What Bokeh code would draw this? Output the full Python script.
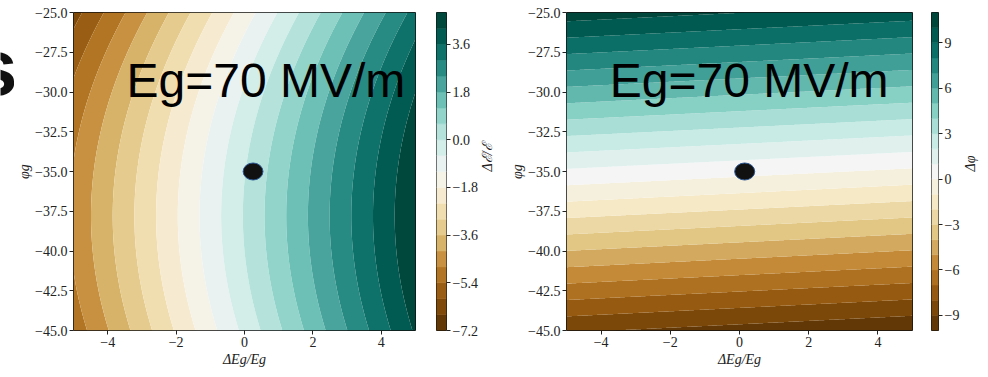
import math
import numpy as np
from bokeh.plotting import figure
from bokeh.layouts import row
from bokeh.models import FixedTicker, CustomJSTickFormatter, Range1d, Label
from bokeh.core.properties import value
from bokeh.embed import file_html
from bokeh.resources import INLINE

# ---------------- data ----------------
X_TICKS = [-4, -2, 0, 2, 4]
Y_TICKS = [-45.0, -42.5, -40.0, -37.5, -35.0, -32.5, -30.0, -27.5, -25.0]
X_RANGE = [-5.0, 5.0]
Y_RANGE = [-45.0, -25.0]

DE_LEVELS = [-7.2, -6.6, -6.0, -5.4, -4.8, -4.2, -3.6, -3.0, -2.4, -1.8, -1.2,
             -0.6, 0.0, 0.6, 1.2, 1.8, 2.4, 3.0, 3.6, 4.2, 4.8]
DE_CBAR_TICKS = [-7.2, -5.4, -3.6, -1.8, 0.0, 1.8, 3.6]
DPHI_LEVELS = [-10, -9, -8, -7, -6, -5, -4, -3, -2, -1, 0, 1, 2, 3, 4, 5, 6,
               7, 8, 9, 10, 11]
DPHI_CBAR_TICKS = [-9, -6, -3, 0, 3, 6, 9]

# shape of the Delta E / E surface (estimated from band positions)
DE_GRAD_X = 0.946      # change per unit of dEg/Eg
DE_ZERO_X = 0.03       # where the 0-contour crosses phi=-35
DE_CURV = 0.0095       # bending of the bands
DE_CENTER_Y = -37.8    # phi where the bands reach furthest left
# shape of the Delta phi surface
DPHI_GRAD_Y = 0.97     # change per unit of phi
DPHI_TILT = 0.107      # rise of the bands per unit of dEg/Eg
DPHI_ONE_Y = -34.3     # phi of the +1 contour at dEg/Eg = 0

DOT_DE_X, DOT_DE_Y = [0.25], [-35.0]
DOT_DPHI_X, DOT_DPHI_Y = [0.15], [-35.0]
ANNOT = "Eg=70 MV/m"
CUT_TEXT = "s"

# ---------------- colour map (matplotlib BrBG anchors) ----------------
BRBG = ["#543005", "#8c510a", "#bf812d", "#dfc27d", "#f6e8c3", "#f5f5f5",
        "#c7eae5", "#80cdc1", "#35978f", "#01665e", "#003c30"]


def brbg(t):
    rgb = np.array([[int(c[i:i + 2], 16) for i in (1, 3, 5)] for c in BRBG], float)
    pos = np.linspace(0, 1, len(BRBG))
    r = [int(round(np.interp(t, pos, rgb[:, k]))) for k in range(3)]
    return "#%02x%02x%02x" % tuple(r)


def band_colors(levels):
    n = len(levels) - 1
    return [brbg((i + 0.5) / n) for i in range(n)]


xs = np.linspace(X_RANGE[0], X_RANGE[1], 301)
ys = np.linspace(Y_RANGE[0], Y_RANGE[1], 301)
XX, YY = np.meshgrid(xs, ys)
Z_DE = DE_GRAD_X * (XX - DE_ZERO_X) - DE_CURV * ((YY - DE_CENTER_Y) ** 2 - (-35.0 - DE_CENTER_Y) ** 2)
Z_DPHI = DPHI_GRAD_Y * (YY - DPHI_ONE_Y - DPHI_TILT * XX) + 1.0

SERIF = "Liberation Serif"
FMT1 = CustomJSTickFormatter(code="return (tick < -1e-9 ? '\u2212' : '') + Math.abs(tick).toFixed(1);")
FMT0 = CustomJSTickFormatter(code="return (tick < -1e-9 ? '\u2212' : '') + Math.abs(tick).toFixed(0);")


def style_axis(ax, label_standoff=0):
    ax.axis_line_color = None
    ax.major_tick_out = 4
    ax.major_tick_in = 0
    ax.minor_tick_out = 0
    ax.minor_tick_in = 0
    ax.major_tick_line_color = "#222222"
    ax.major_label_standoff = 2
    ax.major_label_text_font = SERIF
    ax.major_label_text_font_size = "14px"
    ax.major_label_text_color = "#222222"
    ax.axis_label_text_font = SERIF
    ax.axis_label_text_font_size = "14px"
    ax.axis_label_text_font_style = "italic"
    ax.axis_label_text_color = "#222222"
    ax.axis_label_standoff = label_standoff


def make_main(width, bl, br, Z, levels, dotx, doty, text_x):
    p = figure(width=width, height=377, x_range=Range1d(*X_RANGE), y_range=Range1d(*Y_RANGE),
               output_backend="svg", toolbar_location=None,
               min_border_left=bl, min_border_right=br, min_border_top=12, min_border_bottom=47)
    p.contour(x=xs, y=ys, z=Z, levels=levels, fill_color=band_colors(levels), line_color=None)
    p.ellipse(x=dotx, y=doty, width=0.58, height=1.07, fill_color="#111111",
              line_color="#2b5591", line_width=1)
    p.add_layout(Label(x=text_x, y=-29.3, text=ANNOT, text_font="Liberation Sans",
                       text_font_size="48px", text_color="black", text_baseline="alphabetic"))
    p.grid.visible = False
    p.xaxis.ticker = FixedTicker(ticks=X_TICKS)
    p.yaxis.ticker = FixedTicker(ticks=Y_TICKS)
    p.xaxis.formatter = FMT0
    p.yaxis.formatter = FMT1
    p.xaxis.axis_label = "\u0394Eg/Eg"
    p.yaxis.axis_label = "\u03c6g"
    for ax in p.axis:
        style_axis(ax)
    p.xaxis.axis_label_standoff = 2
    p.outline_line_color = "#111111"
    p.outline_line_width = 1
    p.background_fill_color = "white"
    p.border_fill_color = "white"
    return p


def make_cbar(width, bl, br, levels, ticks, fmt, label, standoff):
    p = figure(width=width, height=377, x_range=Range1d(0, 1), y_range=Range1d(levels[0], levels[-1]),
               y_axis_location="right", x_axis_location=None,
               output_backend="svg", toolbar_location=None,
               min_border_left=bl, min_border_right=br, min_border_top=12, min_border_bottom=47)
    cols = band_colors(levels)
    p.quad(left=0, right=1, bottom=levels[:-1], top=levels[1:], fill_color=cols, line_color=cols,
           line_width=0.5)
    p.grid.visible = False
    p.yaxis.ticker = FixedTicker(ticks=ticks)
    p.yaxis.formatter = fmt
    p.yaxis.axis_label = label
    for ax in p.axis:
        style_axis(ax, standoff)
        try:
            ax.axis_label_orientation = math.pi / 2
        except Exception:
            pass
    p.outline_line_color = "#111111"
    p.outline_line_width = 1
    return p


# narrow strip holding the cut-off large letter at the far left
pS = figure(width=14, height=377, x_range=Range1d(0, 14), y_range=Range1d(377, 0),
            output_backend="svg", toolbar_location=None, min_border=0,
            x_axis_location=None, y_axis_location=None)
pS.grid.visible = False
pS.outline_line_color = None
pS.text(x=[17], y=[65], text=[CUT_TEXT], text_font=value("Liberation Sans"),
        text_font_style="bold", text_font_size="80px", text_color="#111111",
        text_align="right", text_baseline="alphabetic")

pA = make_main(411, 59, 10, Z_DE, DE_LEVELS, DOT_DE_X, DOT_DE_Y, -3.45)
pB = make_cbar(80, 11, 54, DE_LEVELS, DE_CBAR_TICKS, FMT1, "\u0394\u2130/\u2130", 7)
pC = make_main(415, 61, 8, Z_DPHI, DPHI_LEVELS, DOT_DPHI_X, DOT_DPHI_Y, -3.75)
pD = make_cbar(68, 11, 42, DPHI_LEVELS, DPHI_CBAR_TICKS, FMT0, "\u0394\u03c6", 8)

layout = row(pS, pA, pB, pC, pD, spacing=0)
with open("out.html", "w", encoding="utf-8") as f:
    f.write(file_html(layout, INLINE))
